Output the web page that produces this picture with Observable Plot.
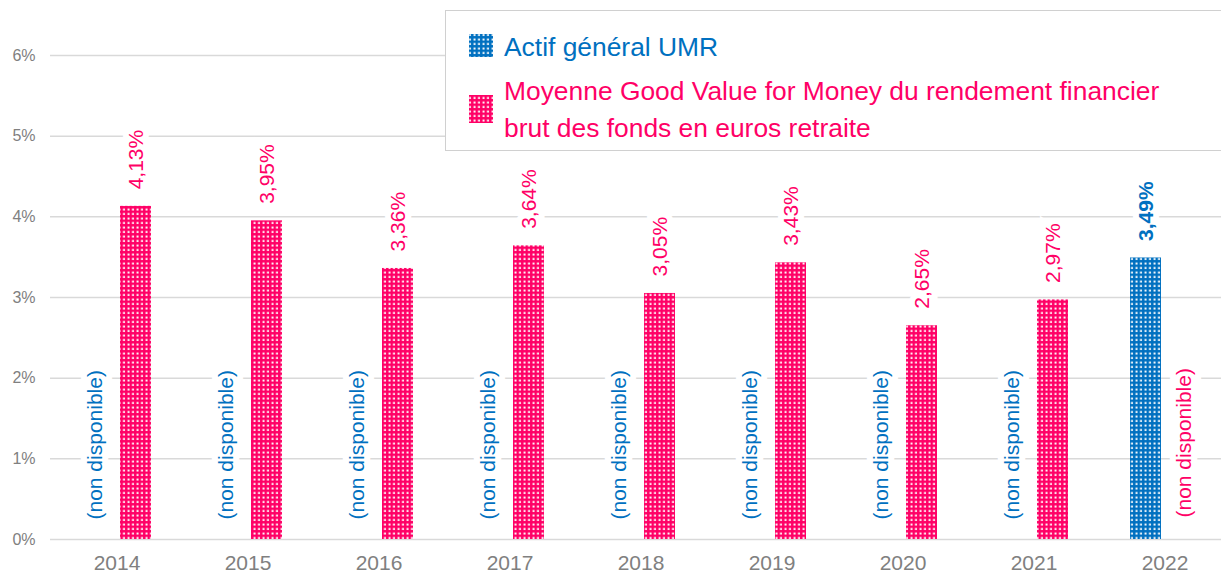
<!DOCTYPE html>
<html><head><meta charset="utf-8">
<script src="https://cdn.jsdelivr.net/npm/d3@7"></script>
<script src="https://cdn.jsdelivr.net/npm/@observablehq/plot@0.6"></script>
<style>
html,body{margin:0;padding:0;background:#fff;overflow:hidden;}
#wrap{position:relative;width:1221px;height:573px;}
#legend{position:absolute;left:445px;top:10px;}
</style></head><body><div id="wrap"></div>
<script>
// ---- data ----
const years = ["2014","2015","2016","2017","2018","2019","2020","2021","2022"];
const umrValues  = [null, null, null, null, null, null, null, null, 3.49];
const gvfmValues = [4.13, 3.95, 3.36, 3.64, 3.05, 3.43, 2.65, 2.97, null];
const yTicks = [0, 1, 2, 3, 4, 5, 6];
const umrName = "Actif général UMR";
const gvfmNameLines = ["Moyenne Good Value for Money du rendement financier", "brut des fonds en euros retraite"];
const unavailableText = "(non disponible)";

const BLUE = "#0070C0", PINK = "#FF0066";
const FONT = "'Liberation Sans', Arial, sans-serif";
const fmt = v => v.toFixed(2).replace(".", ",") + "%";

const umrRows  = years.map((year, i) => ({year, value: umrValues[i]}));
const gvfmRows = years.map((year, i) => ({year, value: gvfmValues[i]}));
const umrAvail = umrRows.filter(d => d.value != null);
const umrMissing = umrRows.filter(d => d.value == null);
const gvfmAvail = gvfmRows.filter(d => d.value != null);
const gvfmMissing = gvfmRows.filter(d => d.value == null);

const halo = {stroke: "white", strokeWidth: 12, strokeLinejoin: "miter"};

const plot = Plot.plot({
  width: 1221, height: 573,
  marginLeft: 50, marginRight: 0, marginTop: 55, marginBottom: 34,
  style: {fontFamily: FONT, color: "#808080", background: "transparent"},
  x: {domain: years, range: [50, 1230], padding: 0, label: null},
  y: {domain: [0, 6], label: null},
  marks: [
    Plot.ruleY(yTicks, {stroke: "#d9d9d9", strokeWidth: 1.5}),
    Plot.axisY({ticks: yTicks, tickSize: 0, tickPadding: 15, tickFormat: d => d + "%", fontSize: 16, label: null}),
    Plot.axisX({tickSize: 0, tickPadding: 16, fontSize: 21, label: null}),
    Plot.barY(umrAvail, {x: "year", y: "value", fill: "url(#dotsBlue)", insetLeft: 31, insetRight: 69}),
    Plot.barY(gvfmAvail, {x: "year", y: "value", fill: "url(#dotsPink)", insetLeft: 69, insetRight: 31}),
    Plot.text(umrAvail, {x: "year", y: "value", text: d => fmt(d.value), rotate: -90, textAnchor: "start",
      dx: -19, dy: -17, fill: BLUE, fontWeight: "bold", fontSize: 21, ...halo}),
    Plot.text(gvfmAvail, {x: "year", y: "value", text: d => fmt(d.value), rotate: -90, textAnchor: "start",
      dx: 19, dy: -17, fill: PINK, fontSize: 21, ...halo}),
    Plot.text(umrMissing, {x: "year", frameAnchor: "bottom", text: () => unavailableText, rotate: -90, textAnchor: "start",
      dx: -15, dy: -20, fill: BLUE, fontSize: 21, ...halo}),
    Plot.text(gvfmMissing, {x: "year", frameAnchor: "bottom", text: () => unavailableText, rotate: -90, textAnchor: "start",
      dx: 26, dy: -22, fill: PINK, fontSize: 21, ...halo})
  ]
});

function addPattern(defs, id, color) {
  const p = defs.append("pattern").attr("id", id).attr("patternUnits", "userSpaceOnUse")
    .attr("width", 4.5).attr("height", 4.5);
  p.append("rect").attr("width", 4.5).attr("height", 4.5).attr("fill", color);
  p.append("rect").attr("x", 1.5).attr("y", 1.5).attr("width", 2).attr("height", 2).attr("fill", "white");
}
const defs = d3.select(plot).insert("defs", ":first-child");
addPattern(defs, "dotsBlue", BLUE);
addPattern(defs, "dotsPink", PINK);

const wrap = document.getElementById("wrap");
wrap.appendChild(plot);

// ---- legend ----
const lg = d3.select(wrap).append("svg").attr("id", "legend")
  .attr("width", 776).attr("height", 141).style("font-family", FONT);
const ldefs = lg.append("defs");
addPattern(ldefs, "lgBlue", BLUE);
addPattern(ldefs, "lgPink", PINK);
lg.append("rect").attr("x", 0.5).attr("y", 0.5).attr("width", 800).attr("height", 140)
  .attr("fill", "white").attr("stroke", "#d0d0d0");
lg.append("rect").attr("x", 24).attr("y", 24).attr("width", 24).attr("height", 23).attr("fill", "url(#lgBlue)");
lg.append("text").attr("x", 59).attr("y", 46).attr("font-size", 26.4).attr("fill", BLUE).text(umrName);
lg.append("rect").attr("x", 24).attr("y", 85).attr("width", 24).attr("height", 28).attr("fill", "url(#lgPink)");
gvfmNameLines.forEach((t, i) => {
  lg.append("text").attr("x", 59).attr("y", 90 + i * 37).attr("font-size", 26.4).attr("fill", PINK).text(t);
});
</script></body></html>
